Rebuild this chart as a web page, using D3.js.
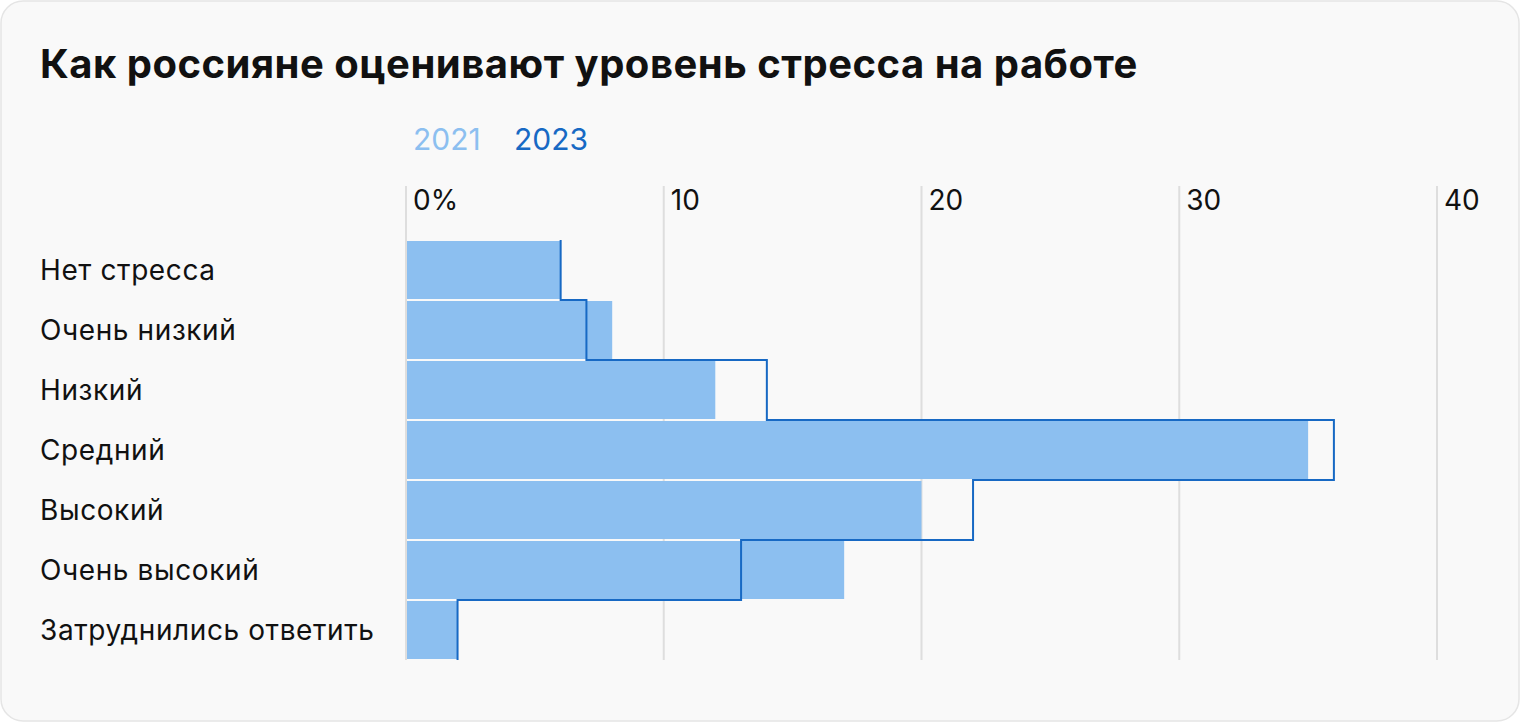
<!DOCTYPE html>
<html>
<head>
<meta charset="utf-8">
<script src="https://d3js.org/d3.v7.min.js"></script>
<style>
  body { margin: 0; background: #fff; }
  svg { display: block; font-family: Inter, "Noto Sans", sans-serif; }
</style>
</head>
<body>
<div id="chart"></div>
<script>
const categories = ['Нет стресса', 'Очень низкий', 'Низкий', 'Средний', 'Высокий', 'Очень высокий', 'Затруднились ответить'];
const values2021 = [6, 8, 12, 35, 20, 17, 2];
const values2023 = [6, 7, 14, 36, 22, 13, 2];
const ticks = [0, 10, 20, 30, 40];

const width = 1520, height = 722;
const svg = d3.select('#chart').append('svg').attr('width', width).attr('height', height);

svg.append('rect')
  .attr('x', 1).attr('y', 1).attr('width', width - 2).attr('height', height - 2)
  .attr('rx', 22).attr('fill', '#f9f9f9').attr('stroke', '#e5e5e5').attr('stroke-width', 1.5);

svg.append('text')
  .attr('x', 40).attr('y', 78)
  .attr('font-size', 40).attr('font-weight', 700).attr('fill', '#111')
  .attr('letter-spacing', 0.5)
  .text('Как россияне оценивают уровень стресса на работе');

// legend
svg.append('text').attr('x', 413).attr('y', 150).attr('font-size', 30).attr('fill', '#8cbff0').text('2021');
svg.append('text').attr('x', 514).attr('y', 150).attr('font-size', 30).attr('fill', '#1769c4').text('2023');

const x = d3.scaleLinear().domain([0, 40]).range([406, 1437]);
const y = d3.scaleBand().domain(categories).range([240, 660]).padding(0);

// grid
svg.append('g').selectAll('line').data(ticks).join('line')
  .attr('x1', d => x(d)).attr('x2', d => x(d))
  .attr('y1', 186).attr('y2', 660)
  .attr('stroke', '#dedede').attr('stroke-width', 2);

svg.append('g').selectAll('text').data(ticks).join('text')
  .attr('x', d => x(d) + 7).attr('y', 210)
  .attr('font-size', 28).attr('fill', '#111')
  .text(d => d === 0 ? '0%' : d);

// bars 2021
svg.append('g').selectAll('rect').data(categories).join('rect')
  .attr('x', x(0) + 1)
  .attr('y', d => y(d) + 1)
  .attr('width', (d, i) => x(values2021[i]) - x(0) - 1)
  .attr('height', y.bandwidth() - 2)
  .attr('fill', '#8cbff0');

// 2023 step outline
let path = d3.path();
categories.forEach((c, i) => {
  const xv = x(values2023[i]);
  if (i === 0) path.moveTo(xv, y(c));
  else path.lineTo(xv, y(c));
  path.lineTo(xv, y(c) + y.bandwidth());
});
svg.append('path').attr('d', path.toString())
  .attr('fill', 'none').attr('stroke', '#1769c4').attr('stroke-width', 2);

// category labels
svg.append('g').selectAll('text').data(categories).join('text')
  .attr('x', 40).attr('y', d => y(d) + y.bandwidth() / 2 + 10)
  .attr('font-size', 28).attr('fill', '#111')
  .attr('letter-spacing', 0.6)
  .text(d => d);
</script>
</body>
</html>
